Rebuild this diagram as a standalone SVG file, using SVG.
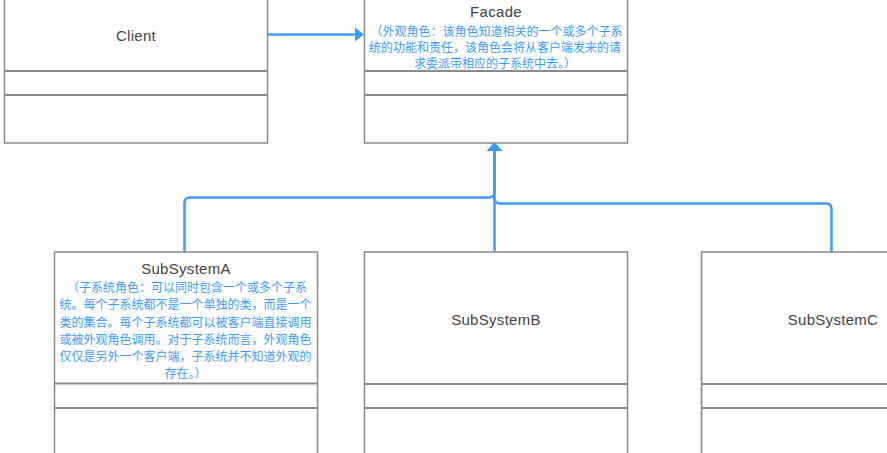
<svg xmlns="http://www.w3.org/2000/svg" width="887" height="453" viewBox="0 0 887 453">
<defs>
<style>
.box{fill:#fff;stroke:#8a8a8a;stroke-width:1.5}
.div{stroke:#8a8a8a;stroke-width:2.2}
.title{font-family:"Liberation Sans","Noto Sans",sans-serif;font-size:15px;fill:#444;text-anchor:middle;letter-spacing:0.3px}
.note{font-family:"Noto Sans CJK SC",sans-serif;font-size:12px;fill:#3d9bff;text-anchor:middle}
.conn{fill:none;stroke:#3d9bff;stroke-width:2.5}
</style>
</defs>
<rect width="887" height="453" fill="#fff"/>
<g id="connectors">
<path class="conn" d="M267,34.5 H355" />
<path d="M355,27.5 L364,34.5 L355,41.5 Z" fill="#3d9bff"/>
<path class="conn" d="M184.5,252 V203 Q184.5,197.5 190,197.5 H489 Q494.5,197.5 494.5,192 V150"/>
<path class="conn" d="M494.5,252 V150"/>
<path class="conn" d="M831.5,252 V209 Q831.5,203.5 826,203.5 H500 Q494.5,203.5 494.5,198"/>
<path d="M486.5,151 L494.5,142 L502.5,151 Z" fill="#3d9bff"/>
</g>
<g id="client">
<rect class="box" x="4.5" y="-2" width="263" height="145"/>
<line class="div" x1="4.5" y1="71" x2="267.5" y2="71"/>
<line class="div" x1="4.5" y1="95" x2="267.5" y2="95"/>
<text class="title" x="136" y="40.5">Client</text>
</g>
<g id="facade">
<rect class="box" x="364.5" y="-2" width="263" height="145"/>
<line class="div" x1="364.5" y1="71" x2="627.5" y2="71"/>
<line class="div" x1="364.5" y1="95" x2="627.5" y2="95"/>
<text class="title" x="496" y="16.5">Facade</text>
<text class="note" x="496.5" y="35.5">（外观角色：该角色知道相关的一个或多个子系</text>
<text class="note" x="495" y="51.5">统的功能和责任，该角色会将从客户端发来的请</text>
<text class="note" x="495" y="67.5">求委派带相应的子系统中去。）</text>
</g>
<g id="subsystemA">
<rect class="box" x="54.5" y="252" width="263" height="220"/>
<line class="div" x1="54.5" y1="383.5" x2="317.5" y2="383.5"/>
<line class="div" x1="54.5" y1="408" x2="317.5" y2="408"/>
<text class="title" x="186" y="273.5">SubSystemA</text>
<text class="note" x="187" y="291.5">（子系统角色：可以同时包含一个或多个子系</text>
<text class="note" x="185.5" y="309">统。每个子系统都不是一个单独的类，而是一个</text>
<text class="note" x="185.5" y="326.5">类的集合。每个子系统都可以被客户端直接调用</text>
<text class="note" x="185.5" y="344">或被外观角色调用。对于子系统而言，外观角色</text>
<text class="note" x="185.5" y="361">仅仅是另外一个客户端，子系统并不知道外观的</text>
<text class="note" x="185.5" y="377.5">存在。）</text>
</g>
<g id="subsystemB">
<rect class="box" x="364.5" y="252" width="263" height="220"/>
<line class="div" x1="364.5" y1="384" x2="627.5" y2="384"/>
<line class="div" x1="364.5" y1="408" x2="627.5" y2="408"/>
<text class="title" x="496" y="324.5">SubSystemB</text>
</g>
<g id="subsystemC">
<rect class="box" x="701.5" y="252" width="263" height="220"/>
<line class="div" x1="701.5" y1="384" x2="964.5" y2="384"/>
<line class="div" x1="701.5" y1="408" x2="964.5" y2="408"/>
<text class="title" x="833" y="324.5">SubSystemC</text>
</g>
</svg>
